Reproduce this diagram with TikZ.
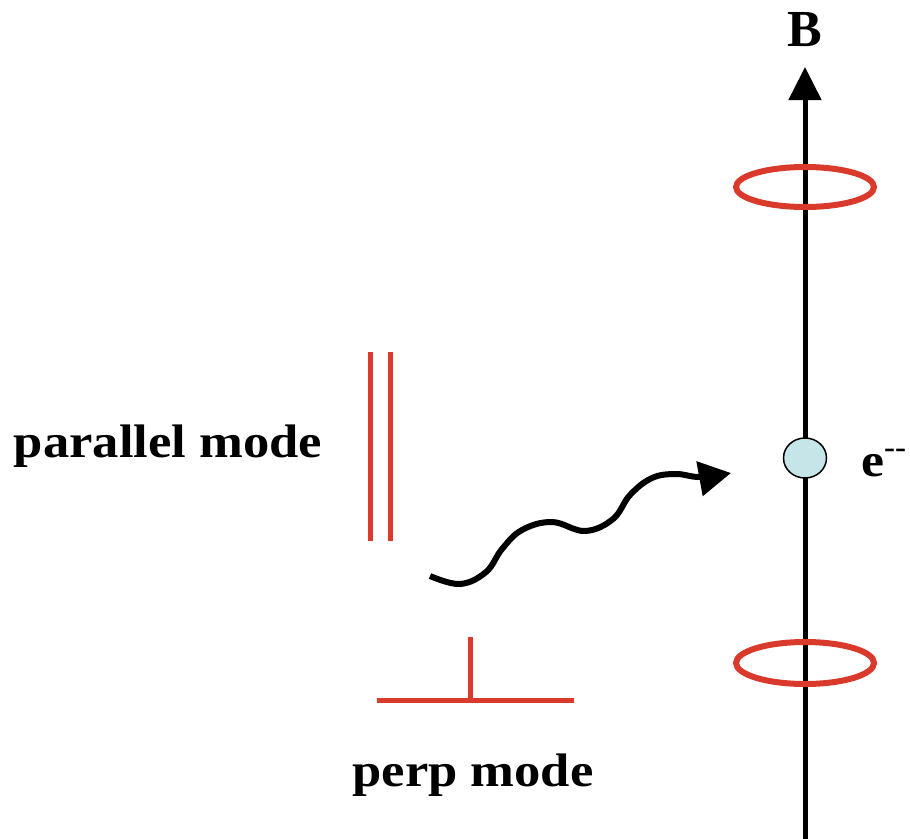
\documentclass[tikz,border=0pt]{standalone}
\usepackage{fontspec}
\setmainfont{Liberation Serif}
\usetikzlibrary{arrows.meta,shapes.geometric}
\definecolor{myred}{HTML}{D93A2B}
\definecolor{mycyan}{HTML}{C5E5E8}
\tikzset{
  redline/.style={draw=myred,line width=5pt},
  ring/.style={draw=myred,line width=6pt},
  lbl/.style={font=\fontsize{47}{52}\selectfont\bfseries,inner sep=0pt},
}
\begin{document}
\begin{tikzpicture}[x=1pt,y=-1pt]
\useasboundingbox (0,0) rectangle (910,838);
% axis
\coordinate (axbot) at (805,845);
\coordinate (axtip) at (805,67);
\draw[line width=5pt,-{Triangle[length=33pt,width=32pt]}] (axbot) -- (axtip);
\node[lbl,anchor=base,font=\fontsize{52}{56}\selectfont\bfseries] (B) at (805,46) {B};
% rings
\draw[ring] (805,187) ellipse (69 and 20);
\draw[ring] (805,663) ellipse (69 and 21);
% electron
\node[ellipse,draw=black,line width=1.5pt,fill=mycyan,minimum width=43pt,minimum height=40pt,inner sep=0pt] (el) at (805,458) {};
\node[lbl,anchor=base west] (elab) at (861,476) {\scalebox{1.1}[1]{e\raisebox{19pt}{\fontsize{30}{30}\selectfont -{}-}}};
% parallel mode
\draw[redline] (370,352) -- (370,541);
\draw[redline] (390,352) -- (390,541);
\node[lbl,anchor=base] (par) at (168,457) {\scalebox{1.12}[1]{parallel mode}};
% perp mode
\draw[redline] (470,637) -- (470,700);
\draw[redline] (377,700) -- (574,700);
\node[lbl,anchor=base] (perp) at (473,786) {\scalebox{1.12}[1]{perp mode}};
% wavy photon
\coordinate (ws) at (430,576);
\coordinate (we) at (731,473);
\draw[line width=6pt,-{Triangle[length=32pt,width=34pt]}] plot[smooth,tension=0.65] coordinates {(ws) (460,584) (486,572) (502,549) (522,530) (552,522) (585,531) (613,519) (630,495) (652,478) (676,474) (700,477) (we)};
\end{tikzpicture}
\end{document}
